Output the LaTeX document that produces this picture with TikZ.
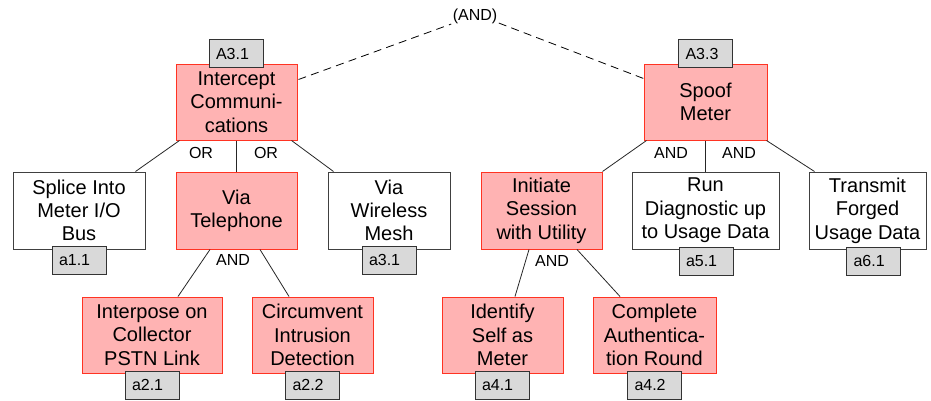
\documentclass[tikz,border=0pt]{standalone}
\usepackage{fontspec}
\setmainfont{Liberation Sans}
\usetikzlibrary{calc}
\newdimen\upx
\upx=0.75pt
\definecolor{goalfill}{HTML}{FFB3B3}
\definecolor{goalline}{HTML}{FF3322}
\definecolor{leafline}{HTML}{404040}
\definecolor{tagfill}{HTML}{D9D9D9}
\definecolor{tagline}{HTML}{333333}
\tikzset{
  box/.style={rectangle, align=center, inner sep=0pt,
    font=\fontsize{15}{17.5}\selectfont, line width=0.75pt},
  goal/.style={box, fill=goalfill, draw=goalline},
  leaf/.style={box, fill=white, draw=leafline},
  tag/.style={rectangle, fill=tagfill, draw=tagline, line width=0.75pt,
    font=\fontsize{12}{14}\selectfont, align=left, text width=40\upx,
    inner xsep=7\upx, inner ysep=0pt, minimum height=28\upx},
  gate/.style={font=\fontsize{12}{14}\selectfont, inner sep=1pt},
  link/.style={line width=0.6pt, draw=black!85},
  joint/.style={line width=0.6pt, dashed, dash pattern=on 6pt off 4pt}
}
\begin{document}
\begin{tikzpicture}[x=0.75pt, y=-0.75pt]
\useasboundingbox (0,0) rectangle (931,400);

% top-level conjunction
\node[gate] (and) at (475,16) {(AND)};

% left subtree
\node[goal, minimum width=121\upx, minimum height=76\upx] (ic) at (236.5,102) {Intercept\\Communi-\\cations};
\node[leaf, minimum width=132\upx, minimum height=77\upx] (sp) at (79,210.5) {Splice Into\\Meter I/O\\Bus};
\node[goal, minimum width=121\upx, minimum height=77\upx] (vt) at (236.5,210.5) {Via\\Telephone};
\node[leaf, minimum width=122\upx, minimum height=77\upx] (wm) at (389,210.5) {Via\\Wireless\\Mesh};
\node[goal, minimum width=140\upx, minimum height=76\upx] (ip) at (152,335) {Interpose on\\Collector\\PSTN Link};
\node[goal, minimum width=121\upx, minimum height=76\upx] (ci) at (312.5,335) {Circumvent\\Intrusion\\Detection};

% right subtree
\node[goal, minimum width=123\upx, minimum height=76\upx] (sm) at (705.5,102) {Spoof\\Meter};
\node[goal, minimum width=121\upx, minimum height=77\upx] (is) at (541.5,210.5) {Initiate\\Session\\with Utility};
\node[leaf, minimum width=147\upx, minimum height=77\upx] (rd) at (705.5,210.5) {Run\\Diagnostic up\\to Usage Data};
\node[leaf, minimum width=117\upx, minimum height=77\upx] (tf) at (867.5,210.5) {Transmit\\Forged\\Usage Data};
\node[goal, minimum width=121\upx, minimum height=76\upx] (id) at (502.5,335) {Identify\\Self as\\Meter};
\node[goal, minimum width=123\upx, minimum height=76\upx] (cr) at (654.5,335) {Complete\\Authentica-\\tion Round};

% gate labels
\node[gate] (or1) at (201,153) {OR};
\node[gate] (or2) at (266,153) {OR};
\node[gate] (and1) at (233,260) {AND};
\node[gate] (and2) at (671,153) {AND};
\node[gate] (and3) at (739,153) {AND};
\node[gate] (and4) at (552,261) {AND};

% dashed links to the top conjunction
\draw[joint] ($(ic.north east)+(1,16)$) -- ($(and.south west)+(0,-1)$);
\draw[joint] ($(and.south east)+(0,-2)$) -- ($(sm.north west)+(0,15)$);

% tree links
\draw[link] ($(ic.south west)+(4,0)$) -- ($(sp.north east)+(-10,0)$);
\draw[link] (ic.south) -- (vt.north);
\draw[link] ($(ic.south east)+(-6,0)$) -- ($(wm.north west)+(6,0)$);
\draw[link] ($(vt.south)+(-26.5,0)$) -- ($(ip.north)+(26,0)$);
\draw[link] ($(vt.south)+(23.5,0)$) -- ($(ci.north)+(-23.5,0)$);
\draw[link] ($(sm.south west)+(3,0)$) -- (is.north east);
\draw[link] (sm.south) -- (rd.north);
\draw[link] ($(sm.south east)+(-1,0)$) -- ($(tf.north west)+(6,0)$);
\draw[link] ($(is.south)+(-12.5,0)$) -- ($(id.north)+(12.5,0)$);
\draw[link] ($(is.south)+(35.5,0)$) -- ($(cr.north)+(-34.5,0)$);

% identifier tags
\node[tag] (t31) at (236,53.5) {A3.1};
\node[tag] (t33) at (705.5,53.5) {A3.3};
\node[tag] (t11) at (79,260) {a1.1};
\node[tag] (t3a) at (389,260) {a3.1};
\node[tag] (t21) at (152,385) {a2.1};
\node[tag] (t22) at (312.5,385) {a2.2};
\node[tag] (t51) at (706,261) {a5.1};
\node[tag] (t61) at (873.5,261) {a6.1};
\node[tag] (t41) at (502,385) {a4.1};
\node[tag] (t42) at (654.5,385) {a4.2};
\end{tikzpicture}
\end{document}
